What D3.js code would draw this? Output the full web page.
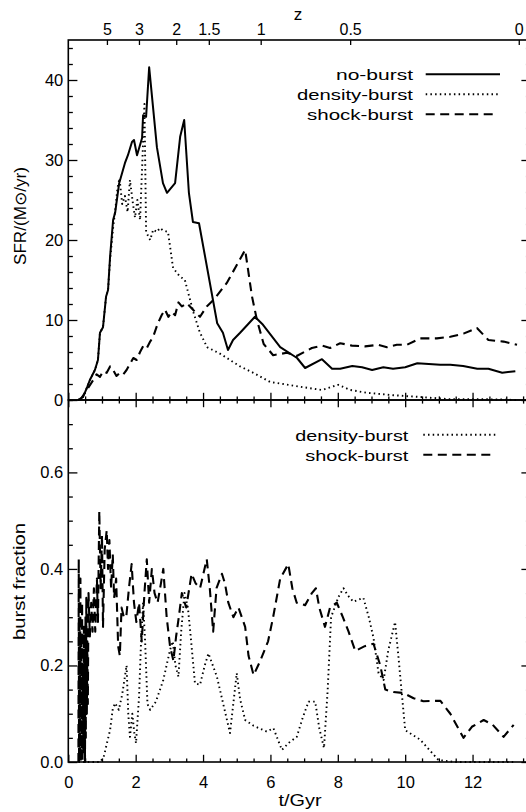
<!DOCTYPE html>
<html><head><meta charset="utf-8">
<script src="https://cdn.jsdelivr.net/npm/d3@7"></script>
<style>
body{margin:0;background:#fff}
svg{display:block}
text{font-family:"Liberation Sans",Arial,"DejaVu Sans",sans-serif;fill:#000}
</style>
</head><body>
<svg id="chart" width="526" height="812"></svg>
<script>
// ---------- DATA ----------
// top panel: star formation rate (M_sun/yr) vs cosmic time t (Gyr)
const noBurstT   = [0.29,0.44,0.56,0.64,0.79,0.88,0.94,1.03,1.12,1.18,1.24,1.33,1.39,1.51,1.68,1.77,1.89,1.95,2.04,2.19,2.22,2.31,2.40,2.63,2.81,2.93,3.17,3.32,3.44,3.58,3.70,3.88,4.42,4.59,4.74,4.89,5.10,5.54,5.78,6.29,6.79,7.03,7.53,7.83,8.07,8.43,8.72,9.02,9.35,9.64,10.0,10.36,11.04,11.34,11.72,12.14,12.47,12.88,13.27];
const noBurstSFR = [0,0.4,1.6,2.5,3.75,5,8.4,9.1,12.9,13.75,17.9,22.5,23.4,27.1,29.6,30.6,32.25,32.5,30.6,32.75,35.6,35.4,41.6,31.6,27.1,25.9,27.1,32.9,35,25.9,22.25,22.1,9.6,8.4,6.25,7.5,8.4,10.4,9.4,6.6,5.25,4,5.1,3.9,3.9,4.25,4.1,3.75,4.1,3.9,4.1,4.6,4.4,4.4,4.25,3.9,3.9,3.4,3.6];

const densityT   = [0.29,0.44,0.56,0.64,0.79,0.88,0.94,1.03,1.12,1.18,1.24,1.33,1.40,1.46,1.52,1.60,1.68,1.76,1.83,1.92,1.98,2.05,2.13,2.20,2.26,2.31,2.43,2.52,2.63,2.72,2.81,2.96,3.11,3.30,3.46,3.71,3.90,4.12,4.50,4.80,5.10,5.49,5.99,6.38,6.97,7.53,8.01,8.37,8.87,9.64,10.36,11.34,12.32,12.91,13.3];
const densitySFR = [0,0.4,1.6,2.5,3.75,5,8.4,9.1,12.9,13.75,17.5,21.5,24,26.5,27.7,24.5,25.5,23.5,27.5,24.5,22.8,25,22.5,30,37,21,20,21.3,21,21.5,21.2,21,16.5,15.5,15,11,8.5,6.6,5.8,5,4.2,3.4,2.25,2,1.6,1.25,1.9,1.25,0.9,0.6,0.4,0.1,0.1,0.05,0];

const shockT   = [0.35,0.55,0.74,0.84,0.94,1.04,1.14,1.24,1.33,1.43,1.53,1.63,1.73,1.83,1.93,2.03,2.13,2.23,2.33,2.43,2.52,2.65,2.77,2.87,2.97,3.07,3.17,3.27,3.37,3.52,3.71,3.91,4.11,4.31,4.70,5.25,5.45,5.60,5.80,6.08,6.49,6.78,7.23,7.53,7.77,8.07,8.42,8.81,9.21,9.46,9.75,10.05,10.45,10.94,11.34,11.73,12.13,12.47,12.92,13.32];
const shockSFR = [0,1.25,2.5,3.2,2.9,3.6,3.4,4.2,3.75,3.0,3.4,3.2,3.75,4.5,5.25,5.0,6,6.8,6.5,7.3,7.9,9.5,10.6,11.3,10.4,11.0,10.6,12.2,11.7,12.1,11.25,10.4,11.7,12.5,14.6,18.75,13,10,7,5.6,5.9,5.5,6.5,6.8,6.5,7.1,6.8,6.7,6.9,6.6,6.9,6.9,7.7,7.7,7.9,8.3,9,7.5,7.3,6.9];

// bottom panel: burst fraction vs t (Gyr)
const densityFracT = [0.30,0.94,1.05,1.15,1.24,1.32,1.39,1.50,1.60,1.73,1.78,1.83,1.90,1.96,2.01,2.10,2.16,2.22,2.28,2.35,2.43,2.60,2.82,3.02,3.10,3.18,3.27,3.35,3.45,3.55,3.62,3.76,3.91,4.05,4.16,4.41,4.60,4.80,5.00,5.10,5.25,5.50,5.89,6.09,6.34,6.55,6.78,6.95,7.13,7.33,7.45,7.59,7.70,7.80,8.02,8.17,8.30,8.46,8.76,8.92,9.06,9.21,9.36,9.50,9.70,9.80,10.0,10.45,10.99,11.5,12.5,13.3];
const densityFrac  = [0,0,0.01,0.04,0.066,0.11,0.122,0.108,0.14,0.20,0.10,0.052,0.10,0.06,0.039,0.135,0.25,0.33,0.25,0.12,0.108,0.125,0.17,0.232,0.25,0.20,0.177,0.27,0.35,0.32,0.27,0.163,0.16,0.20,0.225,0.177,0.12,0.06,0.184,0.13,0.087,0.075,0.063,0.07,0.025,0.04,0.052,0.09,0.125,0.125,0.07,0.029,0.15,0.30,0.342,0.36,0.345,0.332,0.34,0.30,0.257,0.184,0.17,0.232,0.29,0.218,0.066,0.046,0.004,0,0,0];

const shockFracT = [0.30,0.31,0.32,0.335,0.345,0.36,0.37,0.385,0.395,0.41,0.42,0.435,0.445,0.46,0.47,0.485,0.495,0.51,0.52,0.535,0.55,0.565,0.58,0.60,0.64,0.68,0.72,0.76,0.80,0.85,0.88,0.92,0.96,1.00,1.03,1.08,1.14,1.18,1.22,1.27,1.32,1.36,1.42,1.48,1.53,1.58,1.65,1.72,1.80,1.88,1.95,2.02,2.10,2.18,2.26,2.33,2.40,2.48,2.56,2.65,2.75,2.82,2.92,3.02,3.12,3.20,3.28,3.37,3.50,3.66,3.78,3.91,4.11,4.20,4.30,4.40,4.56,4.65,4.75,4.90,5.05,5.25,5.35,5.50,5.70,5.93,6.08,6.29,6.53,6.65,6.78,7.03,7.23,7.35,7.45,7.62,7.77,7.97,8.15,8.32,8.52,8.80,9.06,9.26,9.41,9.65,9.95,10.25,10.54,11.04,11.34,11.73,11.98,12.33,12.60,12.92,13.22];
const shockFrac  = [0,0.42,0.0,0.30,0.02,0.38,0.0,0.25,0.01,0.33,0.0,0.20,0.02,0.28,0.03,0.22,0.0,0.30,0.05,0.34,0.10,0.25,0.12,0.35,0.26,0.33,0.27,0.36,0.27,0.38,0.29,0.52,0.36,0.47,0.28,0.44,0.48,0.40,0.46,0.36,0.43,0.34,0.38,0.24,0.22,0.32,0.30,0.30,0.36,0.41,0.33,0.29,0.33,0.25,0.35,0.42,0.33,0.40,0.35,0.33,0.37,0.40,0.30,0.24,0.21,0.26,0.30,0.35,0.32,0.39,0.37,0.36,0.42,0.36,0.27,0.36,0.39,0.37,0.33,0.30,0.32,0.28,0.22,0.18,0.21,0.25,0.30,0.38,0.41,0.36,0.33,0.325,0.35,0.36,0.32,0.28,0.32,0.33,0.30,0.27,0.23,0.24,0.245,0.20,0.15,0.145,0.143,0.132,0.126,0.127,0.10,0.05,0.073,0.087,0.077,0.052,0.077];

// axis ticks / labels
const sfrTicks = [0,10,20,30,40];
const fracTicks = [0,0.2,0.4,0.6];
const timeTicks = [0,2,4,6,8,10,12];
const zTicks = [5,3,2,1.5,1,0.5,0];
const zTickLabels = ["5","3","2","1.5","1","0.5","0"];

// cosmology used for the redshift axis (flat LCDM)
const h = 0.705, omegaM = 0.3, omegaL = 0.7;
function tOfZ(z){
  const H0 = h * 0.102271; // 1/Gyr
  return 2/(3*H0*Math.sqrt(omegaL)) * Math.asinh(Math.sqrt(omegaL/omegaM) * Math.pow(1+z,-1.5));
}

// ---------- LAYOUT ----------
const svg = d3.select("#chart");
const L = 68.3, R = 530.5;
const topY0 = 40, midY = 400, botY1 = 762;

const x = d3.scaleLinear().domain([0,13.72]).range([L,R]);
const yTop = d3.scaleLinear().domain([0,45]).range([midY,topY0]);
const yBot = d3.scaleLinear().domain([0,0.75]).range([botY1,midY]);

const majX = 7.2, majY = 9.1;

function styleAxis(g){
  g.select(".domain").remove();
  g.selectAll("line").attr("stroke","#000").attr("stroke-width",1.3);
  g.selectAll("text").attr("font-size","16.5px").attr("fill","#000")
    .attr("font-family",'"Liberation Sans",Arial,sans-serif');
}
function minorVals(lo,hi,step,majorStep){
  const v=[]; for(let k=Math.round(lo/step); k*step<=hi+1e-9; k++){const t=k*step; if(Math.abs(t/majorStep-Math.round(t/majorStep))>1e-6) v.push(+t.toFixed(6));} return v;
}
const tMinor = minorVals(0,13.7,0.5,2);
const sfrMinor = minorVals(0,45,2,10);
const fracMinor = minorVals(0,0.75,0.05,0.2);

// --- top panel axes ---
svg.append("g").attr("transform",`translate(${L},0)`)
  .call(d3.axisLeft(yTop).tickValues(sfrTicks).tickFormat(d3.format("d")).tickSize(-majY).tickPadding(5)).call(styleAxis);
svg.append("g").attr("transform",`translate(${L},0)`)
  .call(d3.axisLeft(yTop).tickValues(sfrMinor).tickFormat("").tickSize(-majY/2)).call(styleAxis);
svg.append("g").attr("transform",`translate(${R},0)`)
  .call(d3.axisRight(yTop).tickValues(sfrTicks).tickFormat("").tickSize(-majY)).call(styleAxis);
svg.append("g").attr("transform",`translate(${R},0)`)
  .call(d3.axisRight(yTop).tickValues(sfrMinor).tickFormat("").tickSize(-majY/2)).call(styleAxis);
svg.append("g").attr("transform",`translate(0,${midY})`)
  .call(d3.axisBottom(x).tickValues(timeTicks).tickFormat("").tickSize(-majX)).call(styleAxis);
svg.append("g").attr("transform",`translate(0,${midY})`)
  .call(d3.axisBottom(x).tickValues(tMinor).tickFormat("").tickSize(-majX/2)).call(styleAxis);
svg.append("g").attr("transform",`translate(0,${topY0})`)
  .call(d3.axisTop(x).tickValues(zTicks.map(tOfZ)).tickFormat((d,i)=>zTickLabels[i]).tickSize(-5).tickPadding(5))
  .call(styleAxis).call(g=>g.selectAll("text").attr("font-size","16px"));

// --- bottom panel axes ---
svg.append("g").attr("transform",`translate(${L},0)`)
  .call(d3.axisLeft(yBot).tickValues(fracTicks).tickFormat(d3.format(".1f")).tickSize(-majY).tickPadding(5)).call(styleAxis);
svg.append("g").attr("transform",`translate(${L},0)`)
  .call(d3.axisLeft(yBot).tickValues(fracMinor).tickFormat("").tickSize(-majY/2)).call(styleAxis);
svg.append("g").attr("transform",`translate(${R},0)`)
  .call(d3.axisRight(yBot).tickValues(fracTicks).tickFormat("").tickSize(-majY)).call(styleAxis);
svg.append("g").attr("transform",`translate(${R},0)`)
  .call(d3.axisRight(yBot).tickValues(fracMinor).tickFormat("").tickSize(-majY/2)).call(styleAxis);
svg.append("g").attr("transform",`translate(0,${midY})`)
  .call(d3.axisTop(x).tickValues(timeTicks).tickFormat("").tickSize(-majX)).call(styleAxis);
svg.append("g").attr("transform",`translate(0,${midY})`)
  .call(d3.axisTop(x).tickValues(tMinor).tickFormat("").tickSize(-majX/2)).call(styleAxis);
svg.append("g").attr("transform",`translate(0,${botY1})`)
  .call(d3.axisBottom(x).tickValues(timeTicks).tickFormat(d3.format("d")).tickSize(-majX).tickPadding(14)).call(styleAxis);
svg.append("g").attr("transform",`translate(0,${botY1})`)
  .call(d3.axisBottom(x).tickValues(tMinor).tickFormat("").tickSize(-majX/2)).call(styleAxis);

// frames
svg.append("rect").attr("x",L).attr("y",topY0).attr("width",R-L).attr("height",midY-topY0)
  .attr("fill","none").attr("stroke","#000").attr("stroke-width",1.6);
svg.append("rect").attr("x",L).attr("y",midY).attr("width",R-L).attr("height",botY1-midY)
  .attr("fill","none").attr("stroke","#000").attr("stroke-width",1.6);

// ---------- LINES ----------
const styles = {
  solid:  {dash:null, w:2},
  dotted: {dash:"1.5,3.2", w:1.9},
  dashed: {dash:"9,5.5", w:2.1}
};
function drawSeries(ts, vs, yScale, st){
  const pts = ts.map((t,i)=>[t,vs[i]]);
  const line = d3.line().x(d=>x(d[0])).y(d=>yScale(d[1]));
  svg.append("path").datum(pts).attr("d",line).attr("fill","none")
    .attr("stroke","#000").attr("stroke-width",styles[st].w)
    .attr("stroke-linejoin","round")
    .attr("stroke-dasharray",styles[st].dash);
}
drawSeries(densityT, densitySFR, yTop, "dotted");
drawSeries(shockT, shockSFR, yTop, "dashed");
drawSeries(noBurstT, noBurstSFR, yTop, "solid");
drawSeries(densityFracT, densityFrac, yBot, "dotted");
drawSeries(shockFracT, shockFrac, yBot, "dashed");

// ---------- LEGENDS ----------
function legendItem(label, len, tx, ty, x1, x2, st){
  svg.append("text").attr("x",tx).attr("y",ty).attr("text-anchor","end")
    .attr("font-size","15px").attr("textLength",len).attr("lengthAdjust","spacingAndGlyphs").text(label);
  svg.append("line").attr("x1",x1).attr("x2",x2).attr("y1",ty-5.8).attr("y2",ty-5.8)
    .attr("stroke","#000").attr("stroke-width",styles[st].w).attr("stroke-dasharray",styles[st].dash);
}
legendItem("no-burst", 77, 413, 80, 425.7, 500, "solid");
legendItem("density-burst", 116, 413, 100, 425.7, 500, "dotted");
legendItem("shock-burst", 106, 413, 120, 425.7, 494, "dashed");
legendItem("density-burst", 113, 408.3, 440.5, 423.3, 497, "dotted");
legendItem("shock-burst", 103, 408.3, 460.5, 423.3, 491, "dashed");

// ---------- TITLES ----------
svg.append("text").attr("x",298).attr("y",19.5).attr("text-anchor","middle").attr("font-size","17px").text("z");
svg.append("text").attr("x",300).attr("y",806).attr("text-anchor","middle").attr("font-size","16px")
  .attr("textLength",43).attr("lengthAdjust","spacingAndGlyphs").text("t/Gyr");
svg.append("text").attr("transform","translate(25.5,216) rotate(-90)").attr("text-anchor","middle").attr("font-size","16px")
  .attr("textLength",98).attr("lengthAdjust","spacingAndGlyphs").text("SFR/(M⊙/yr)");
svg.append("text").attr("transform","translate(25,581.5) rotate(-90)").attr("text-anchor","middle").attr("font-size","16px")
  .attr("textLength",117).attr("lengthAdjust","spacingAndGlyphs").text("burst fraction");
</script>
</body></html>
